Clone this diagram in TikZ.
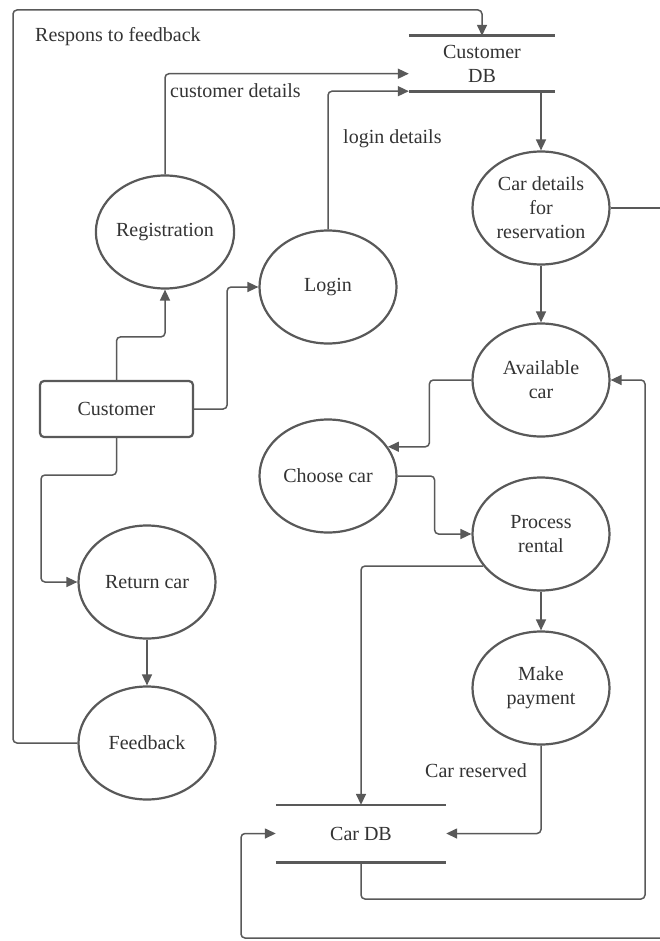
\documentclass[tikz,border=0pt]{standalone}
\usepackage{fontspec}
\setmainfont{Liberation Serif}
\usetikzlibrary{shapes.geometric,arrows.meta}
\definecolor{ln}{HTML}{595959}
\definecolor{tx}{HTML}{333333}
\begin{document}
\begin{tikzpicture}[x=1pt,y=-1pt,
  every node/.style={font=\fontsize{20}{24}\selectfont,text=tx},
  procnode/.style={ellipse,draw=ln,line width=2.2pt,minimum width=137pt,minimum height=113pt,inner sep=0pt,align=center},
  entity/.style={rectangle,rounded corners=4pt,draw=ln,line width=2.2pt,minimum width=153pt,minimum height=56pt,inner sep=0pt},
  store/.style={rectangle,inner sep=0pt,align=center},
  storeline/.style={draw=ln,line width=2.6pt},
  conn/.style={draw=ln,line width=1.5pt,rounded corners=4pt,-{Triangle[length=11pt,width=10pt]}},
  plain/.style={draw=ln,line width=1.5pt,rounded corners=4pt},
  lbl/.style={anchor=west,inner sep=0pt}]
\useasboundingbox[fill=white] (0,0) rectangle (660,941);

% nodes
\node[store,minimum width=146pt,minimum height=55pt] (cdb) at (482,63.5) {Customer\\DB};
\node[store,minimum width=170pt,minimum height=57pt] (cardb) at (361,833.5) {Car DB};
\node[procnode] (reg) at (165,232) {Registration};
\node[procnode] (login) at (328,287) {Login};
\node[procnode] (cd) at (541,208) {Car details\\for\\reservation};
\node[procnode] (avail) at (541,380) {Available\\car};
\node[procnode] (choose) at (328,476) {Choose car};
\node[procnode] (proc) at (541,534) {Process\\rental};
\node[procnode] (pay) at (541,688) {Make\\payment};
\node[procnode] (ret) at (147,582) {Return car};
\node[procnode] (fb) at (147,743) {Feedback};
\node[entity] (cust) at (116.5,409) {Customer};

\coordinate (edgeR) at (662,208);
\coordinate (edgeB) at (662,938);

% store lines
\draw[storeline] (cdb.north west) -- (cdb.north east);
\draw[storeline,line width=3.2pt] (cdb.south west) -- (cdb.south east);
\draw[storeline] (cardb.north west) -- (cardb.north east);
\draw[storeline] (cardb.south west) -- (cardb.south east);

% labels
\node[lbl] (l1) at (35,37) {Respons to feedback};
\node[lbl] (l2) at (170,91) {customer details};
\node[lbl] (l3) at (343,139) {login details};
\node[lbl] (l4) at (425,771) {Car reserved};

% connectors
\draw[conn] (fb.west) -| (13,10) -| (cdb.north);
\draw[conn] (reg.north) |- ([yshift=17.5pt]cdb.south west);
\draw[conn] (login.north) |- (cdb.south west);
\draw[conn] (cdb.south -| cd.north) -- (cd.north);
\draw[plain] (cd.east) -- (edgeR);
\draw[conn] (edgeB) -| (241,833.5) -- (cardb.west);
\draw[conn] (cd.south) -- (avail.north);
\draw[conn] (cust.north) -- ++(0,-43) -| (reg.south);
\draw[conn] (cust.east) -- ++(33,0) |- (login.west);
\draw[conn] (cust.south) |- (41,475) |- (ret.west);
\draw[conn] (avail.west) -- ++(-42,0) |- (choose.26);
\draw[conn] (choose.east) -- ++(37,0) |- (proc.west);
\draw[conn] (proc.209) -| (cardb.north);
\draw[conn] (proc.south) -- (pay.north);
\draw[conn] (pay.south) |- (cardb.east);
\draw[conn] (cardb.south) |- (645,899) |- (avail.east);
\draw[conn] (ret.south) -- (fb.north);
\end{tikzpicture}
\end{document}
